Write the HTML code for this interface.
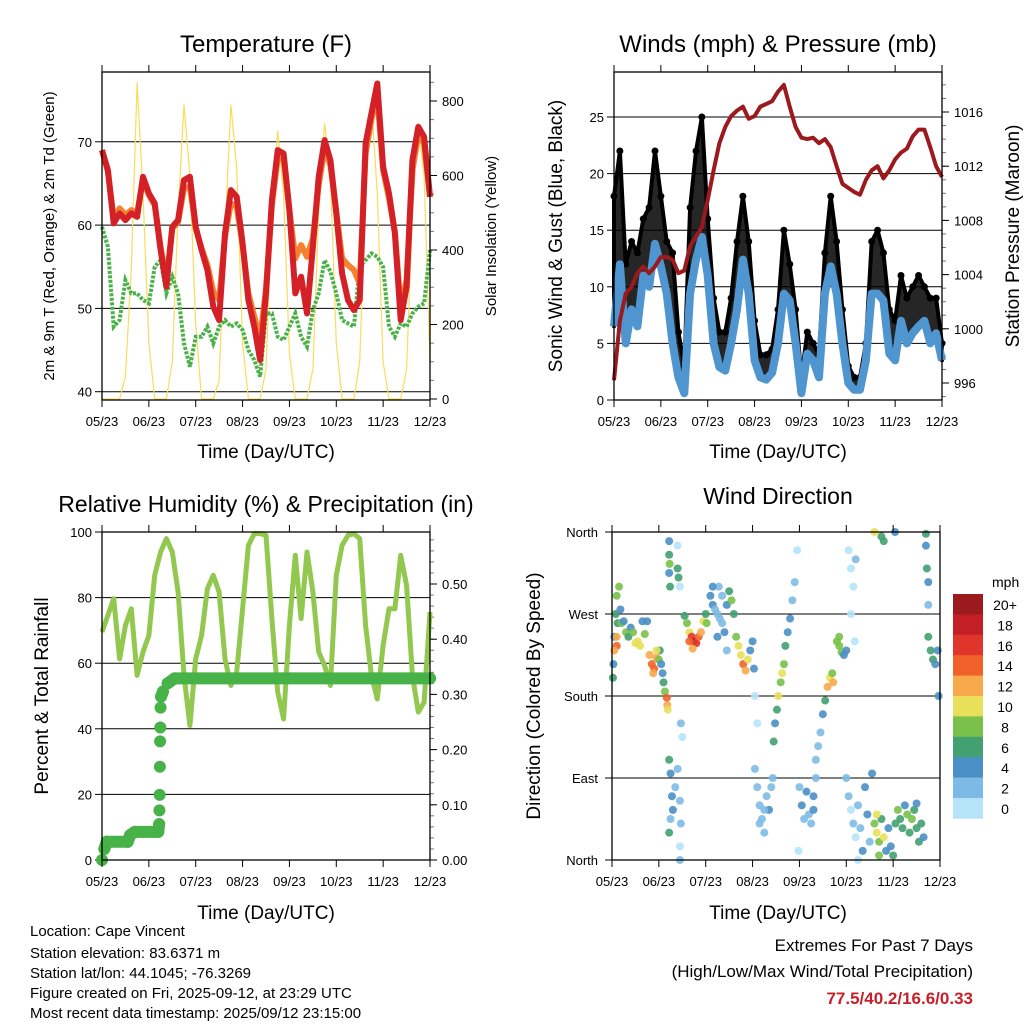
<!DOCTYPE html>
<html><head><meta charset="utf-8">
<style>
html,body{margin:0;padding:0;background:#fff;}
svg{display:block;font-family:"Liberation Sans",Arial,sans-serif;}
</style></head>
<body>
<svg id="chart" width="1024" height="1024" viewBox="0 0 1024 1024" xmlns="http://www.w3.org/2000/svg">
<rect width="1024" height="1024" fill="#fff"/>
<text x="266" y="52" font-size="24" text-anchor="middle">Temperature (F)</text>
<text x="778" y="52" font-size="24" text-anchor="middle">Winds (mph) &amp; Pressure (mb)</text>
<text x="266" y="512" font-size="23" text-anchor="middle">Relative Humidity (%) &amp; Precipitation (in)</text>
<text x="778" y="504" font-size="23" text-anchor="middle">Wind Direction</text>
<text transform="translate(54,236) rotate(-90)" font-size="15" text-anchor="middle">2m &amp; 9m T (Red, Orange) &amp; 2m Td (Green)</text>
<text transform="translate(496,236) rotate(-90)" font-size="15" text-anchor="middle">Solar Insolation (Yellow)</text>
<text transform="translate(562,236) rotate(-90)" font-size="19" text-anchor="middle">Sonic Wind &amp; Gust (Blue, Black)</text>
<text transform="translate(1019,236) rotate(-90)" font-size="19" text-anchor="middle">Station Pressure (Maroon)</text>
<text transform="translate(48,696) rotate(-90)" font-size="19" text-anchor="middle">Percent &amp; Total Rainfall</text>
<text transform="translate(540,696) rotate(-90)" font-size="19" text-anchor="middle">Direction (Colored By Speed)</text>
<text x="266" y="458" font-size="19" text-anchor="middle">Time (Day/UTC)</text>
<text x="778" y="458" font-size="19" text-anchor="middle">Time (Day/UTC)</text>
<text x="266" y="919" font-size="19" text-anchor="middle">Time (Day/UTC)</text>
<text x="778" y="919" font-size="19" text-anchor="middle">Time (Day/UTC)</text>
<g font-size="15">
<text x="30" y="936">Location: Cape Vincent</text>
<text x="30" y="958">Station elevation: 83.6371 m</text>
<text x="30" y="978">Station lat/lon: 44.1045; -76.3269</text>
<text x="30" y="998">Figure created on Fri, 2025-09-12, at 23:29 UTC</text>
<text x="30" y="1018">Most recent data timestamp: 2025/09/12 23:15:00</text>
</g>
<text x="973" y="951" font-size="17" text-anchor="end">Extremes For Past 7 Days</text>
<text x="973" y="977" font-size="17" text-anchor="end">(High/Low/Max Wind/Total Precipitation)</text>
<text x="973" y="1004" font-size="17" font-weight="bold" fill="#c8202a" text-anchor="end">77.5/40.2/16.6/0.33</text>
<g id="layer"></g>
</svg>
<script>
// ---------- data ----------
const xTickLabels = ["05/23","06/23","07/23","08/23","09/23","10/23","11/23","12/23"];
const tempRed = [69,66.6,60.2,61.4,60.6,61.4,61,65.8,63.8,62.6,57,52.6,59.8,60.6,65.4,65.8,59.8,57,54.6,50.2,48.6,59,64.2,63.4,57.8,51,47.8,43.8,51.8,63,69,68.6,61.8,51.8,53.8,49.4,57.4,65.8,70.2,67.8,61.4,54.2,51,49.8,51,69.8,73.4,77,67,63.8,59,48.6,52.6,67.8,71.8,70.6,63.4];
const tempOrange = [69,66.4,60.8,62,61.2,61.8,61.4,65.4,63.6,62.4,57.4,53.4,59.6,60.4,64.4,64.6,59.6,57.2,55.2,52,51,58.6,62.6,62.2,57.6,51.8,49,46.2,52.4,62.4,68,68,61.8,56,57.6,56.2,58.4,64.8,69.2,67.2,61.6,56,55.2,54.6,53,68.6,72.6,75.6,66.6,63.2,59.2,50,53.4,66.6,70.8,69.8,63.4];
const tempDew = [59.8,57.4,47.8,48.6,53.4,51.8,51.8,51,50.6,55,55.8,51.8,53.8,51.8,45.8,43,46.6,46.6,47.8,45.8,47.8,48.6,47.8,48.2,47.4,45,43.8,41.8,49.4,49.4,46.6,46.2,47.8,49.4,46.6,45.4,49.8,51.8,55.8,54.4,51.8,48.6,48.2,47.8,55,55.8,56.6,56.2,55,47.8,46.6,48.2,47.8,49.4,50.2,50.6,57];
const solar = [0,0,0,0,60,350,850,550,150,0,0,0,100,500,790,600,200,0,0,0,50,450,790,620,150,0,0,0,80,500,720,550,120,0,0,0,80,500,740,600,150,0,0,0,100,550,800,550,100,0,0,0,80,500,740,600,100];
const tempTicks = [40,50,60,70];
const solarTicks = [0,200,400,600,800];

const windSpeed = [6.5,12,5,8,6.5,11,10,13.8,11.8,9.4,5,2,0.6,9.4,12.4,14.4,11,5,2.9,2.6,5,8,12.4,9.4,3.5,2,1.8,2.4,5,9.4,8.8,5,0.6,4.1,3.5,2,9.4,11.8,9.4,5,1.5,0.9,0.9,3.5,9.4,9.4,8.8,4.1,3.5,7,5,5.9,6.5,7,5,5.9,3.5];
const windGust = [18,22,12,14,13,16,17,22,18,14,13,6,3,17,22,25,16,9,6,6,9,14,18,14,7,4,4,4.5,8,15,12,8,2,6,5,4,13,18,14,8,3,2,2,5,14,15,13,8,7,11,9,10,11,10,9,9,5];
const pressure = [996.2,1000.6,1002.6,1003.1,1004.1,1004.6,1004.1,1004.6,1005.3,1005.3,1005.1,1004.1,1004.3,1006.1,1006.8,1007.5,1009.5,1011.7,1013.7,1014.9,1015.7,1016.1,1016.4,1015.5,1015.7,1016.4,1016.6,1016.8,1017.5,1018,1016.4,1014.9,1014.1,1014,1014.1,1013.7,1014,1013.4,1012,1010.7,1010.4,1010.1,1009.9,1011,1011.7,1012,1011.1,1011.7,1012.5,1013,1013.3,1014.2,1014.7,1014.7,1013.4,1012,1011.2];
const windTicks = [0,5,10,15,20,25];
const pressureTicks = [996,1000,1004,1008,1012,1016];

const rh = [69.5,74.6,79.7,61.3,71.5,76.6,56.3,63.4,68.5,86.8,93.9,98,93.9,81.7,56.3,41,61.3,68.5,82.7,86.8,81.7,61.3,53.2,57.3,76.6,95.9,99.5,99.5,99,73.6,51.2,43,71.5,92.9,73.6,93.9,81.7,63.4,59.3,53.2,86.8,95.9,99,99.5,98,71.5,56.3,49.1,65.4,76.6,76.6,92.9,83.7,56.3,45.1,48.1,75.6];
const precipTimes = [0,0.05,0.1,0.55,0.6,0.7,1.2,1.22,1.225,1.23,1.235,1.24,1.245,1.25,1.26,1.3,1.4,1.55,7.0];
const precipVals = [0,0.02,0.033,0.033,0.045,0.051,0.051,0.065,0.09,0.118,0.169,0.215,0.24,0.276,0.296,0.305,0.32,0.329,0.329];
const rhTicks = [0,20,40,60,80,100];
const precipTicks = [0,0.1,0.2,0.3,0.4,0.5];

const dirTime = [0.02,0.03,0.05,0.08,0.1,0.15,0.12,0.1,0.1,0.18,0.2,0.05,0.25,0.3,0.35,0.4,0.45,0.5,0.55,0.6,0.65,0.7,0.75,0.8,0.85,0.9,0.95,0.88,1.0,1.02,1.05,0.95,1.08,1.1,1.13,1.17,1.18,1.19,1.22,1.22,1.23,1.22,1.24,1.4,1.42,1.45,1.4,1.22,1.25,1.28,1.3,1.25,1.22,1.35,1.45,1.47,1.45,1.4,1.5,1.47,1.45,1.55,1.6,1.65,1.7,1.75,1.8,1.85,1.9,1.95,2.0,2.02,1.72,1.65,2.1,2.15,2.2,2.25,2.3,2.35,2.4,2.28,2.35,2.45,2.5,2.55,2.6,2.45,2.25,2.15,2.65,2.7,2.75,2.8,2.85,2.9,2.95,3.0,3.03,3.05,3.05,3.1,3.15,3.2,3.25,3.3,3.35,3.4,3.43,3.25,3.15,3.1,3.45,3.48,3.52,3.55,3.6,3.63,3.67,3.7,3.75,3.8,3.85,3.9,3.95,4.0,4.05,4.1,4.15,4.2,4.25,4.3,4.35,3.98,4.3,4.35,4.4,4.45,4.5,4.55,4.6,4.65,4.7,4.72,4.8,4.85,4.9,4.95,5.0,4.85,5.05,5.1,5.15,5.2,5.1,5.18,5.0,5.05,5.1,5.15,5.2,5.25,5.3,5.35,5.4,5.45,5.5,5.55,5.25,5.6,5.65,5.7,5.75,5.8,5.85,5.9,5.95,6.0,5.65,5.7,6.05,6.1,6.15,6.2,6.25,6.3,6.35,6.4,6.45,6.5,6.55,6.6,6.65,6.5,5.6,5.75,5.8,6.04,6.7,6.7,6.72,6.75,6.75,6.75,6.8,6.85,6.9,6.95,6.97];
const dirDeg = [200,215,245,270,290,300,260,245,235,275,260,230,262,250,245,255,250,238,240,235,262,248,262,225,215,210,222,205,220,230,215,230,205,195,185,178,170,165,350,335,325,315,300,320,310,300,345,110,95,70,55,45,30,80,65,40,15,100,135,150,0,268,260,250,245,240,238,245,250,262,270,260,232,240,290,280,275,270,265,260,250,300,290,280,295,285,270,230,245,300,245,235,225,215,208,220,230,240,210,180,100,80,60,45,30,70,55,80,90,55,40,150,130,150,165,180,195,205,215,235,250,265,285,305,340,80,60,45,75,50,40,70,90,10,55,110,125,140,160,175,190,200,205,195,240,235,228,225,230,245,340,320,300,330,270,240,90,70,55,40,25,60,35,10,80,50,20,95,0,40,30,20,45,25,10,35,15,5,50,5,40,55,45,35,60,50,30,45,55,35,20,40,25,62,360,355,350,360,358,345,320,305,280,245,230,220,215,230,180];
const dirSpeed = [6,4,3,6,8,8,6,12,14,4,8,12,4,8,6,4,8,10,10,10,4,8,4,12,14,14,12,12,8,6,4,10,4,6,8,14,12,10,4,6,8,4,6,6,6,0,0,6,4,4,4,2,6,2,2,2,0,2,0,2,2,6,8,10,16,18,16,14,12,10,6,8,12,14,4,4,2,2,2,2,4,2,2,4,6,8,6,2,4,4,8,10,10,14,12,10,4,4,4,0,2,2,2,2,2,2,4,2,2,2,2,0,6,4,6,10,8,10,8,6,4,4,2,2,0,2,4,2,4,2,2,4,2,0,4,2,2,2,4,6,12,10,8,12,8,8,8,4,4,8,0,0,0,2,0,0,2,2,0,2,0,2,2,4,4,4,2,4,0,8,10,8,6,10,4,4,4,6,10,8,6,8,6,6,4,8,6,8,6,6,6,6,4,4,10,6,6,4,6,4,6,4,2,6,6,6,4,4,4];
const dirTicks = ["North","East","South","West","North"];
const speedBins = ["0","2","4","6","8","10","12","14","16","18","20+"];
const speedColors = ["#b5e3f8","#7dbbe6","#4a8fc6","#43a070","#79c14a","#e8e05a","#f8a94b","#f0622a","#e0352b","#c41e26","#9c1a1e"];

// ---------- drawing ----------
const NS = "http://www.w3.org/2000/svg";
const layer = document.getElementById("layer");
function mk(tag, attrs, parent){const e=document.createElementNS(NS,tag);for(const k in attrs)e.setAttribute(k,attrs[k]);(parent||layer).appendChild(e);return e;}
function stepTime(i){return i*0.125;}

function panel(x0,y0,x1,y1,name){
  const g = mk("g",{});
  
  
  return {x0,y0,x1,y1,g,
    sx:t=>x0+(x1-x0)*t/7};
}
function frame(p, name){
  const r = mk("rect",{x:p.x0,y:p.y0,width:p.x1-p.x0,height:p.y1-p.y0,fill:"none",stroke:"#000","stroke-width":1.3},p.g);
  
  
}
function xAxis(p){
  const g = mk("g",{},p.g);
  
  
  xTickLabels.forEach((lab,i)=>{
    const x=p.sx(i);
    mk("line",{x1:x,x2:x,y1:p.y1,y2:p.y1+7,stroke:"#000","stroke-width":1},g);
    mk("line",{x1:x,x2:x,y1:p.y0,y2:p.y0-7,stroke:"#000","stroke-width":1},g);
    const t=mk("text",{x:x,y:p.y1+26,"font-size":13,"text-anchor":"middle"},g);
    t.textContent=lab;
    
    
  });
}
function yLeft(p,ticks,sy,fmt,grid){
  const g = mk("g",{},p.g);
  
  
  ticks.forEach(v=>{
    const y=sy(v);
    if(grid) mk("line",{x1:p.x0,x2:p.x1,y1:y,y2:y,stroke:"#000","stroke-width":1},g);
    mk("line",{x1:p.x0-7,x2:p.x0,y1:y,y2:y,stroke:"#000","stroke-width":1},g);
    const t=mk("text",{x:p.x0-10,y:y+5,"font-size":13,"text-anchor":"end"},g);
    t.textContent=fmt(v);
    
    
  });
}
function yRight(p,ticks,sy,fmt,minorStep){
  const g = mk("g",{},p.g);
  
  
  const lo=ticks[0], hi=ticks[ticks.length-1];
  for(let v=lo-minorStep*10; v<=hi+minorStep*10; v+=minorStep){
    const y=sy(v); if(y<p.y0-0.5||y>p.y1+0.5) continue;
    mk("line",{x1:p.x1,x2:p.x1+4,y1:y,y2:y,stroke:"#777","stroke-width":1},g);
  }
  ticks.forEach(v=>{
    const y=sy(v);
    mk("line",{x1:p.x1,x2:p.x1+7,y1:y,y2:y,stroke:"#000","stroke-width":1},g);
    const t=mk("text",{x:p.x1+12,y:y+5,"font-size":13},g);
    t.textContent=fmt(v);
    
    
  });
}
function pathFrom(xs,ys){return xs.map((x,i)=>(i?"L":"M")+x.toFixed(1)+","+ys[i].toFixed(1)).join(" ");}

// ----- Temperature panel -----
{
  const p = panel(102,72,430,400,"temperature-panel");
  const sy = v=>391.7-(v-40)*8.33;
  const ss = v=>399-v*0.3725;
  yLeft(p,tempTicks,sy,v=>v,true);
  yRight(p,solarTicks,ss,v=>v,50);
  const xs = solar.map((v,i)=>p.sx(stepTime(i)));
  const sl = mk("path",{d:pathFrom(xs,solar.map(ss)),fill:"none",stroke:"#f7dd5a","stroke-width":1.2},p.g);
  
  
  const dl = mk("path",{d:pathFrom(tempDew.map((v,i)=>p.sx(stepTime(i))),tempDew.map(sy)),fill:"none",stroke:"#4bb249","stroke-width":4,"stroke-dasharray":"3 1.5"},p.g);
  
  
  const ol = mk("path",{d:pathFrom(tempOrange.map((v,i)=>p.sx(stepTime(i))),tempOrange.map(sy)),fill:"none",stroke:"#f4812e","stroke-width":6,"stroke-linejoin":"round"},p.g);
  
  
  const rl = mk("path",{d:pathFrom(tempRed.map((v,i)=>p.sx(stepTime(i))),tempRed.map(sy)),fill:"none",stroke:"#d42027","stroke-width":6,"stroke-linejoin":"round"},p.g);
  
  
  frame(p,"temperature-plot-frame");
  xAxis(p);
}
// ----- Winds panel -----
{
  const p = panel(614,72,942,400,"winds-panel");
  const sy = v=>400-v*11.32;
  const sp = v=>383-(v-996)*13.55;
  yLeft(p,windTicks,sy,v=>v,true);
  yRight(p,pressureTicks,sp,v=>v,1);
  const xs = windSpeed.map((v,i)=>p.sx(stepTime(i)));
  const gy = windGust.map(sy), by = windSpeed.map(sy);
  const area = pathFrom(xs,gy)+" "+xs.slice().reverse().map((x,i)=>"L"+x.toFixed(1)+","+by[by.length-1-i].toFixed(1)).join(" ")+"Z";
  const ga = mk("path",{d:area,fill:"#000","fill-opacity":0.85,stroke:"#000","stroke-width":4,"stroke-linejoin":"round"},p.g);
  
  
  windGust.forEach((v,i)=>{
    const c = mk("circle",{cx:xs[i],cy:gy[i],r:3.5,fill:"#000"},p.g);
    
    
  });
  const bl = mk("path",{d:pathFrom(xs,by),fill:"none",stroke:"#4f95d0","stroke-width":8,"stroke-linejoin":"round"},p.g);
  
  
  const pl = mk("path",{d:pathFrom(pressure.map((v,i)=>p.sx(stepTime(i))),pressure.map(sp)),fill:"none",stroke:"#9c1a1e","stroke-width":4,"stroke-linejoin":"round"},p.g);
  
  
  frame(p,"winds-plot-frame");
  xAxis(p);
}
// ----- RH panel -----
{
  const p = panel(102,532,430,860,"humidity-panel");
  const sy = v=>860-v*3.28;
  const spr = v=>860-v*552;
  yLeft(p,rhTicks,sy,v=>v,true);
  yRight(p,precipTicks,spr,v=>v.toFixed(2),0.02);
  const rl = mk("path",{d:pathFrom(rh.map((v,i)=>p.sx(stepTime(i))),rh.map(sy)),fill:"none",stroke:"#92c84f","stroke-width":5,"stroke-linejoin":"round"},p.g);
  
  
  for(let i=1;i<precipTimes.length;i++){
    if(Math.abs(precipVals[i]-precipVals[i-1])<0.015){
      const s = mk("line",{x1:p.sx(precipTimes[i-1]),y1:spr(precipVals[i-1]),x2:p.sx(precipTimes[i]),y2:spr(precipVals[i]),stroke:"#47b248","stroke-width":12,"stroke-linecap":"round"},p.g);
      
      
    }
  }
  precipVals.forEach((v,i)=>{
    const c = mk("circle",{cx:p.sx(precipTimes[i]),cy:spr(v),r:6,fill:"#47b248"},p.g);
    
    
  });
  frame(p,"humidity-plot-frame");
  xAxis(p);
}
// ----- Wind direction panel -----
{
  const p = panel(612,532,940,860,"wind-direction-panel");
  const sy = d=>860-d*(328/360);
  const g = mk("g",{},p.g);
  
  
  dirTicks.forEach((lab,i)=>{
    const y = sy(i*90);
    mk("line",{x1:p.x0,x2:p.x1,y1:y,y2:y,stroke:"#000","stroke-width":1},g);
    mk("line",{x1:p.x0-7,x2:p.x0,y1:y,y2:y,stroke:"#000","stroke-width":1},g);
    const t = mk("text",{x:p.x0-14,y:y+5,"font-size":13,"text-anchor":"end"},g);
    t.textContent = lab;
    
    
  });
  dirTime.forEach((t,i)=>{
    const bin = Math.min(10, Math.round(dirSpeed[i]/2));
    const c = mk("circle",{cx:p.sx(t),cy:sy(dirDeg[i]),r:4,fill:speedColors[bin],"fill-opacity":0.9},p.g);
    
    
  });
  frame(p,"direction-plot-frame");
  xAxis(p);
  // colorbar
  const cb = mk("g",{});
  
  
  const top=594, h=20.4;
  const u = mk("text",{x:992,y:587,"font-size":14},cb);
  u.textContent="mph";
  
  
  speedBins.slice().reverse().forEach((lab,k)=>{
    const bin = speedBins.length-1-k;
    const r = mk("rect",{x:953,y:top+k*h,width:30,height:h+0.3,fill:speedColors[bin]},cb);
    
    
    const t = mk("text",{x:1005,y:top+k*h+16,"font-size":14,"text-anchor":"middle"},cb);
    t.textContent = lab;
    
    
  });
}
</script>
</body></html>
